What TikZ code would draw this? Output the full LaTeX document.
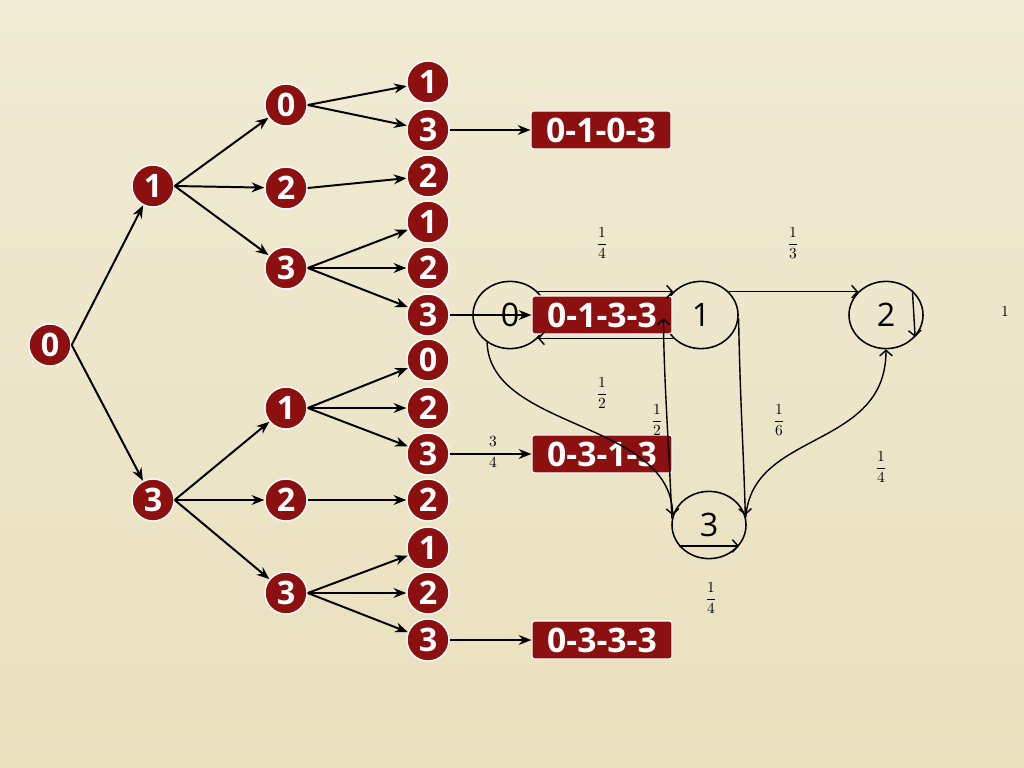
\documentclass[tikz,border=0pt]{standalone}
\usepackage{amsmath}
\usepackage{fontspec}
\setmainfont{Open Sans}
\usetikzlibrary{arrows,arrows.meta,shapes.geometric}
\definecolor{treered}{RGB}{140,16,16}
\definecolor{paperA}{RGB}{240,235,212}
\definecolor{paperB}{RGB}{234,224,190}
\tikzstyle{tnode}=[circle,fill=treered,draw=white,line width=1pt,text=white,font=\bfseries\fontsize{23}{23}\selectfont,minimum size=1.05cm,inner sep=0pt]
\tikzstyle{pbox}=[rectangle,rounded corners=2pt,fill=treered,draw=white,line width=0.8pt,text=white,font=\bfseries\fontsize{24}{24}\selectfont,minimum width=3.5cm,minimum height=0.95cm,inner sep=0pt]
\tikzstyle{snode}=[ellipse,draw=black,line width=1.1pt,minimum width=1.85cm,minimum height=1.68cm,font=\fontsize{23}{23}\selectfont,inner sep=0pt]
\tikzstyle{tarrow}=[-{Stealth[length=9pt,width=7pt]},line width=1.4pt]
\tikzstyle{sarrow}=[-{Straight Barb[length=4pt,width=9pt]},line width=1pt]
\tikzstyle{prob}=[font=\fontsize{10.5}{11}\selectfont,inner sep=0pt]

\begin{document}
\begin{tikzpicture}[x=0.025cm,y=-0.025cm]
\shade[top color=paperA,bottom color=paperB] (0,0) rectangle (1024,768);

% chain states (under the boxes)
\node[snode] (s0) at (510,315) {0};
\node[snode] (s1) at (701,315) {1};
\node[snode] (s2) at (886,315) {2};
\node[snode] (s3) at (709,525) {3};

% tree
\node[tnode] (a) at (50,345) {0};

\node[tnode] (b1) at (153,186) {1};
\node[tnode] (b3) at (153,500) {3};

\node[tnode] (c10) at (286,105) {0};
\node[tnode] (c12) at (286,188) {2};
\node[tnode] (c13) at (286,268) {3};
\node[tnode] (c31) at (286,408) {1};
\node[tnode] (c32) at (286,500) {2};
\node[tnode] (c33) at (286,593) {3};

\node[tnode] (d101) at (428,82) {1};
\node[tnode] (d103) at (428,130) {3};
\node[tnode] (d122) at (428,176) {2};
\node[tnode] (d131) at (428,222) {1};
\node[tnode] (d132) at (428,268) {2};
\node[tnode] (d133) at (428,315) {3};
\node[tnode] (d310) at (428,360) {0};
\node[tnode] (d312) at (428,408) {2};
\node[tnode] (d313) at (428,454) {3};
\node[tnode] (d322) at (428,500) {2};
\node[tnode] (d331) at (428,548) {1};
\node[tnode] (d332) at (428,593) {2};
\node[tnode] (d333) at (428,640) {3};

\node[pbox] (p1) at (601,130) {0-1-0-3};
\node[pbox] (p2) at (602,315) {0-1-3-3};
\node[pbox] (p3) at (602,454) {0-3-1-3};
\node[pbox] (p4) at (602,640) {0-3-3-3};

\draw[tarrow] (a.east) -- (b1);
\draw[tarrow] (a.east) -- (b3);

\draw[tarrow] (b1.east) -- (c10);
\draw[tarrow] (b1.east) -- (c12);
\draw[tarrow] (b1.east) -- (c13);
\draw[tarrow] (b3.east) -- (c31);
\draw[tarrow] (b3.east) -- (c32);
\draw[tarrow] (b3.east) -- (c33);

\draw[tarrow] (c10.east) -- (d101);
\draw[tarrow] (c10.east) -- (d103);
\draw[tarrow] (c12.east) -- (d122);
\draw[tarrow] (c13.east) -- (d131);
\draw[tarrow] (c13.east) -- (d132);
\draw[tarrow] (c13.east) -- (d133);
\draw[tarrow] (c31.east) -- (d310);
\draw[tarrow] (c31.east) -- (d312);
\draw[tarrow] (c31.east) -- (d313);
\draw[tarrow] (c32.east) -- (d322);
\draw[tarrow] (c33.east) -- (d331);
\draw[tarrow] (c33.east) -- (d332);
\draw[tarrow] (c33.east) -- (d333);

\draw[tarrow] (d103.east) -- (p1.west);
\draw[tarrow] (d133.east) -- (p2.west);
\draw[tarrow] (d313.east) -- (p3.west);
\draw[tarrow] (d333.east) -- (p4.west);

% chain edges
\draw[sarrow] (s0.40) -- (s1.140);
\draw[sarrow] (s1.-140) -- (s0.-40);
\draw[sarrow] (s1.40) -- (s2.140);
\draw[sarrow] (s2.43) -- (s2.-37);
\draw[sarrow] (s0.-130) .. controls (490,430) and (670,420) .. (s3.165);
\draw[sarrow] (s3.170) .. controls (668,430) and (664,380) .. (s1.185);
\draw[sarrow] (s1.-5) .. controls (740,400) and (744,460) .. (s3.15);
\draw[sarrow] (s3.12) .. controls (752,430) and (886,450) .. (s2.south);
\draw[sarrow] (s3.-145) -- (s3.-35);

% probabilities
\node[prob] (q01) at (602,243) {$\dfrac{1}{4}$};
\node[prob] (q12) at (793,243) {$\dfrac{1}{3}$};
\node[prob] (q22) at (1005,312) {$1$};
\node[prob] (q10) at (602,393) {$\dfrac{1}{2}$};
\node[prob] (q03) at (657,420) {$\dfrac{1}{2}$};
\node[prob] (q13) at (779,420) {$\dfrac{1}{6}$};
\node[prob] (q32) at (881,467) {$\dfrac{1}{4}$};
\node[prob] (q31) at (493,452) {$\dfrac{3}{4}$};
\node[prob] (q33) at (711,598) {$\dfrac{1}{4}$};
\end{tikzpicture}
\end{document}
